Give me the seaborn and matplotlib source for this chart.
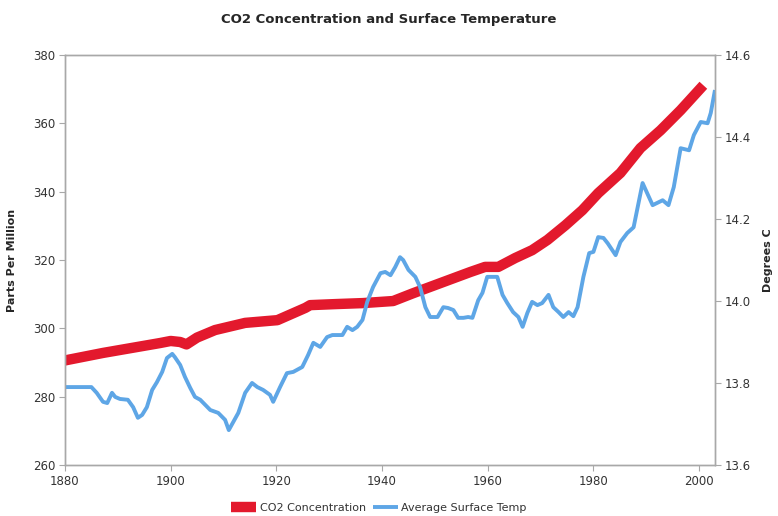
import matplotlib
matplotlib.use('Agg')
import matplotlib.pyplot as plt
import seaborn as sns

# CO2 concentration (ppm)
co2_years = [1880, 1887.2, 1898, 1900, 1901.8, 1903, 1905, 1908.4, 1914.1, 1920.2,
             1925.5, 1926.4, 1931.1, 1936.4, 1942.1, 1945.9, 1956.7, 1959.5, 1962,
             1965.2, 1968.4, 1971.3, 1974.7, 1977.9, 1980.9, 1985.1, 1988.9, 1992.7,
             1996.5, 2000.8]
co2_ppm = [290.6, 292.8, 295.7, 296.3, 296.0, 295.3, 297.3, 299.5, 301.6, 302.4,
           306.0, 306.8, 307.1, 307.4, 308.0, 310.3, 316.5, 318.0, 318.0,
           320.6, 322.9, 325.9, 330.2, 334.6, 339.6, 345.5, 352.8, 358.0,
           363.9, 371.2]

# Average surface temperature (deg C)
temp_years = [1880, 1885, 1886, 1887.2, 1888, 1888.9, 1889.5, 1890.4, 1891.9, 1892.9,
              1893.8, 1894.6, 1895.5, 1896.5, 1897.4, 1898.4, 1899.3, 1900.3, 1900.8,
              1901.8, 1902.7, 1903.7, 1904.6, 1905.6, 1907.5, 1909, 1910.3, 1911,
              1912.8, 1914.1, 1915.4, 1916.4, 1917.5, 1918.8, 1919.4, 1920.7, 1922,
              1923.2, 1924.9, 1926, 1927, 1928.3, 1929.6, 1930.6, 1931.5, 1932.5,
              1933.4, 1934.4, 1935.3, 1936.3, 1937.2, 1938.3, 1939.7, 1940.6, 1941.6,
              1942.5, 1943.4, 1944, 1945, 1946.3, 1947.2, 1948.2, 1949.1, 1950.5,
              1951.6, 1952.5, 1953.5, 1954.4, 1955.4, 1956.3, 1957.1, 1958.2, 1959,
              1959.9, 1961.8, 1962.8, 1963.7, 1964.8, 1965.8, 1966.6, 1967.5, 1968.4,
              1969.4, 1970.3, 1971.5, 1972.4, 1973.4, 1974.3, 1975.3, 1976.2, 1977,
              1978.1, 1979.2, 1980, 1980.9, 1981.9, 1982.7, 1984.2, 1985.1, 1986.4,
              1987.6, 1989.3, 1991.2, 1993.1, 1994.2, 1995.2, 1996.5, 1998.1, 1999,
              2000.3, 2001.6, 2002.2, 2003]
temp_deg = [13.79, 13.79, 13.776, 13.754, 13.751, 13.776, 13.766, 13.761, 13.759, 13.741,
            13.715, 13.722, 13.741, 13.783, 13.802, 13.827, 13.861, 13.871, 13.863,
            13.844, 13.815, 13.788, 13.766, 13.759, 13.734, 13.727, 13.71, 13.685,
            13.727, 13.776, 13.80, 13.79, 13.783, 13.771, 13.754, 13.79, 13.824,
            13.827, 13.839, 13.868, 13.898, 13.888, 13.912, 13.917, 13.917, 13.917,
            13.937, 13.929, 13.937, 13.954, 13.998, 14.034, 14.068, 14.071, 14.063,
            14.083, 14.107, 14.10, 14.076, 14.059, 14.034, 13.985, 13.961, 13.961,
            13.985, 13.983, 13.978, 13.959, 13.959, 13.961, 13.959, 14.002, 14.02,
            14.059, 14.059, 14.015, 13.995, 13.973, 13.961, 13.937, 13.971, 13.998,
            13.99, 13.995, 14.015, 13.985, 13.973, 13.961, 13.973, 13.963, 13.985,
            14.059, 14.117, 14.12, 14.156, 14.154, 14.141, 14.112, 14.144, 14.166,
            14.18, 14.288, 14.234, 14.246, 14.234, 14.278, 14.373, 14.368, 14.405,
            14.437, 14.434, 14.459, 14.515]

x_ticks = [1880, 1900, 1920, 1940, 1960, 1980, 2000]
ppm_ticks = [260, 280, 300, 320, 340, 360, 380]
deg_ticks = [13.6, 13.8, 14.0, 14.2, 14.4, 14.6]

sns.set_style('white')
plt.rcParams['font.family'] = ['DejaVu Sans']

red = '#e3192d'
blue = '#5ea6e6'
grey = '#a8a8a8'
txt = '#333333'

fig = plt.figure(figsize=(7.78, 5.16), dpi=100)
ax = fig.add_axes([0.0835, 0.099, 0.8355, 0.794])
ax2 = ax.twinx()

sns.lineplot(x=co2_years, y=co2_ppm, ax=ax, color=red, linewidth=7.5,
             solid_capstyle='butt', label='CO2 Concentration', legend=False)
sns.lineplot(x=temp_years, y=temp_deg, ax=ax2, color=blue, linewidth=2.8,
             solid_capstyle='butt', label='Average Surface Temp', legend=False)

ax.set_xlim(1880, 2003)
ax.set_ylim(260, 380)
ax2.set_ylim(13.6, 14.6)
ax.set_xticks(x_ticks)
ax.set_yticks(ppm_ticks)
ax2.set_yticks(deg_ticks)
ax2.set_yticklabels([f'{v:.1f}' for v in deg_ticks])

for a in (ax, ax2):
    for s in a.spines.values():
        s.set_color(grey)
        s.set_linewidth(1.0)
    a.tick_params(length=4, width=0.8, color=grey, labelsize=8.5, labelcolor=txt, pad=3)
    a.grid(False)

ax.tick_params(axis='y', left=True)
ax.tick_params(axis='x', bottom=True)
ax2.tick_params(axis='y', right=True)

ax.set_xlabel('')
ax.set_ylabel('Parts Per Million', fontsize=8, fontweight='bold')
ax2.set_ylabel('Degrees C', fontsize=8, fontweight='bold')
ax.yaxis.set_label_coords(-0.074, 0.5)
ax2.yaxis.set_label_coords(1.074, 0.5)

fig.suptitle('CO2 Concentration and Surface Temperature', fontsize=9.5,
             fontweight='bold', x=0.5, y=0.975)

h1, l1 = ax.get_legend_handles_labels()
h2, l2 = ax2.get_legend_handles_labels()
fig.legend(h1 + h2, l1 + l2, loc='center', bbox_to_anchor=(0.487, 0.016), ncol=2,
           frameon=False, fontsize=8, handlelength=2.3, handletextpad=0.3,
           columnspacing=0.6, labelcolor=txt)

fig.savefig('out.png', dpi=100)
